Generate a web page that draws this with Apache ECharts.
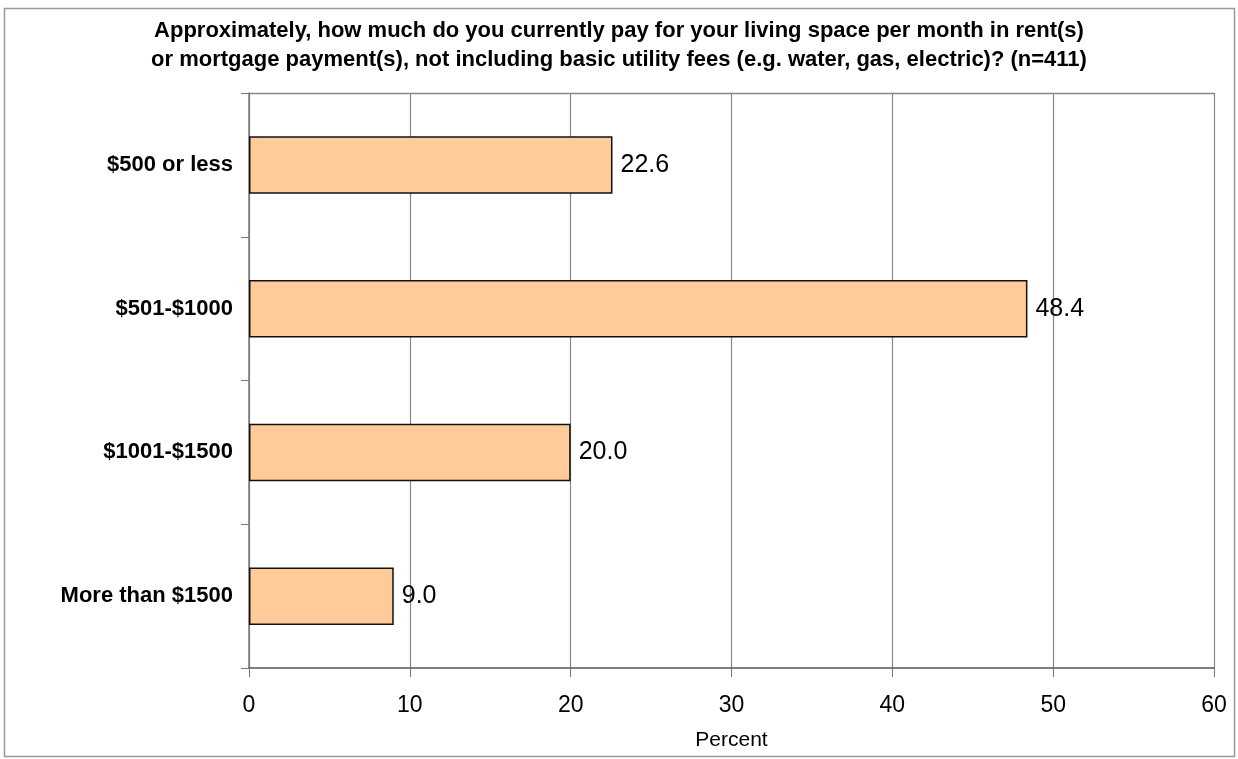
<!DOCTYPE html>
<html>
<head>
<meta charset="utf-8">
<script src="https://cdn.jsdelivr.net/npm/echarts@6/dist/echarts.min.js"></script>
<style>
html,body{margin:0;padding:0;background:#fff;}
#chart{width:1238px;height:759px;}
</style>
</head>
<body>
<div id="chart"></div>
<script>
const categories = ['$500 or less', '$501-$1000', '$1001-$1500', 'More than $1500'];
const percents = [22.6, 48.4, 20.0, 9.0];
const xTicks = [0, 10, 20, 30, 40, 50, 60];
const titleText = 'Approximately, how much do you currently pay for your living space per month in rent(s)\nor mortgage payment(s), not including basic utility fees (e.g. water, gas, electric)? (n=411)';

const FONT = 'Liberation Sans, Arial, sans-serif';
const chart = echarts.init(document.getElementById('chart'), null, {renderer: 'canvas'});
chart.setOption({
  animation: false,
  backgroundColor: '#fff',
  title: {
    text: titleText,
    left: 'center',
    top: 11,
    textStyle: {fontFamily: FONT, fontSize: 22, fontWeight: 'bold', color: '#000', lineHeight: 29}
  },
  graphic: [{
    type: 'rect',
    shape: {x: 4.5, y: 8.5, width: 1230, height: 748},
    style: {fill: 'none', stroke: '#999', lineWidth: 1.5},
    silent: true
  }, {
    type: 'line',
    shape: {x1: 249, y1: 93.5, x2: 1214, y2: 93.5},
    style: {stroke: '#888', lineWidth: 1.5},
    silent: true
  }],
  grid: {left: 249, right: 24, top: 93, bottom: 91, containLabel: false},
  xAxis: {
    type: 'value',
    min: 0, max: 60, interval: 10,
    name: 'Percent',
    nameLocation: 'middle',
    nameGap: 62,
    nameTextStyle: {fontFamily: FONT, fontSize: 21, color: '#000'},
    axisLine: {show: true, lineStyle: {color: '#555', width: 1.5}},
    axisTick: {show: true, length: 9, lineStyle: {color: '#777'}},
    axisLabel: {fontFamily: FONT, fontSize: 23, color: '#000', margin: 26,
      formatter: v => xTicks.includes(v) ? String(v) : ''},
    splitLine: {show: true, lineStyle: {color: '#888', width: 1.2}}
  },
  yAxis: {
    type: 'category',
    data: categories,
    inverse: true,
    axisLine: {show: true, lineStyle: {color: '#777', width: 1.5}},
    axisTick: {show: true, length: 8, lineStyle: {color: '#777'}},
    axisLabel: {fontFamily: FONT, fontSize: 22, fontWeight: 'bold', color: '#000', margin: 16}
  },
  series: [{
    type: 'bar',
    data: percents,
    barCategoryGap: '60%',
    itemStyle: {color: '#FFCC99', borderColor: '#111', borderWidth: 1.5},
    label: {
      show: true, position: 'right', distance: 8,
      fontFamily: FONT, fontSize: 25, color: '#000',
      formatter: p => p.value.toFixed(1)
    }
  }]
});
</script>
</body>
</html>
